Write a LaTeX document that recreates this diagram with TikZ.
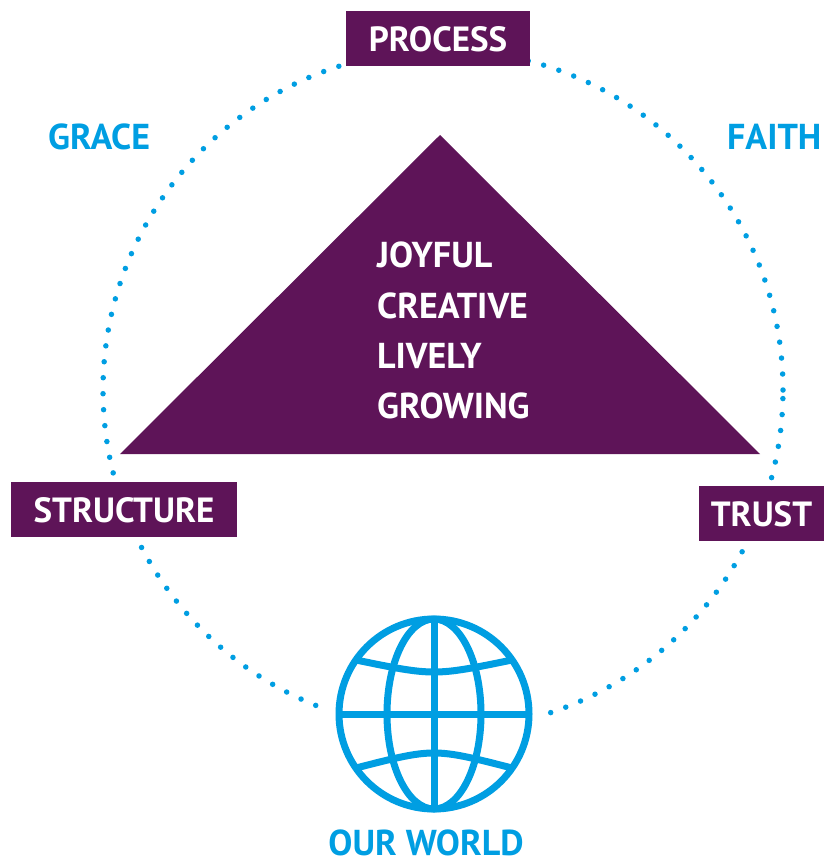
\documentclass[tikz,border=0pt]{standalone}
\usepackage{fontspec}
\setmainfont{PT Sans}
\usepackage{xcolor}
\usepackage{tikz}
\definecolor{plum}{HTML}{5E1458}
\definecolor{sky}{HTML}{009EE2}

\begin{document}
\begin{tikzpicture}[x=1pt, y=-1pt,
    tag/.style={fill=plum, text=white, inner sep=0pt, minimum height=55pt, text height=25pt, text depth=0pt, font=\bfseries\fontsize{35}{42}\selectfont},
    virtue/.style={text=sky, inner sep=0pt, anchor=base west, font=\bfseries\fontsize{36}{42}\selectfont},
    quality/.style={text=white, inner sep=0pt, anchor=base west, font=\bfseries\fontsize{36}{42}\selectfont},
    ring/.style={sky, line width=5.5pt, line cap=round, dash pattern=on 0pt off 16pt},
    grid/.style={sky, line width=7pt}]
  \useasboundingbox (0,0) rectangle (824,865);
  % dotted ring
  \draw[ring] (443,390) circle[radius=340pt];
  % triangle
  \fill[plum] (120,454) -- (440,135) -- (760,454) -- cycle;
  \node[quality] (joyful) at (377,267) {JOYFUL};
  \node[quality] (creative) at (377,318) {CREATIVE};
  \node[quality] (lively) at (377,368) {LIVELY};
  \node[quality] (growing) at (377,418) {GROWING};
  % words round the ring
  \node[virtue] (grace) at (48,149) {GRACE};
  \node[virtue] (faith) at (727,149) {FAITH};
  \node[tag, minimum width=184pt] (process) at (438,38.5) {PROCESS};
  \node[tag, minimum width=226pt] (structure) at (124,509.5) {STRUCTURE};
  \node[tag, minimum width=125pt] (trust) at (761.5,513.5) {TRUST};
  % globe
  \begin{scope}[shift={(434,714)}]
    \fill[white] (0,0) circle[radius=110pt];
    \draw[grid] (0,0) circle[radius=95pt];
    \draw[grid] (0,0) ellipse[x radius=47pt, y radius=95pt];
    \draw[grid] (0,-95) -- (0,95);
    \draw[grid] (-95,0) -- (95,0);
    \draw[grid] (-78,-54) .. controls (0,-38) .. (78,-54);
    \draw[grid] (-78,54) .. controls (0,34) .. (78,54);
  \end{scope}
  \node[virtue, anchor=base] (world) at (426,855) {OUR WORLD};
\end{tikzpicture}
\end{document}
